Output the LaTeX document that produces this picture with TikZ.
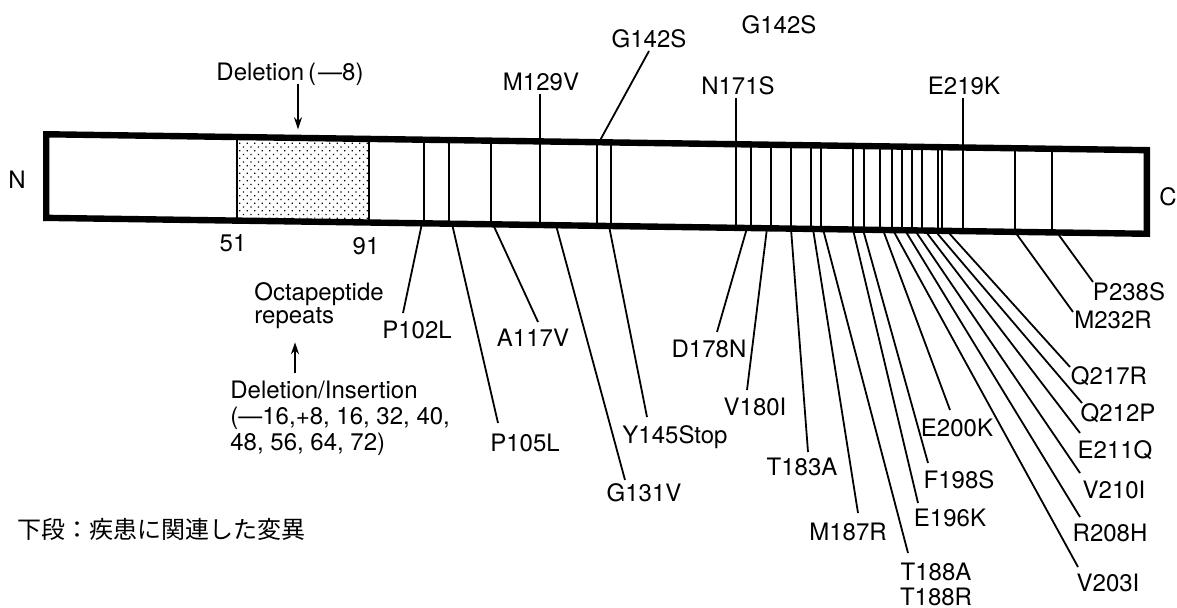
\documentclass[tikz,border=0pt]{standalone}
\usepackage{fontspec}
\setmainfont{TeX Gyre Heros}
\newfontfamily\jpfont{Noto Sans CJK JP}
\usetikzlibrary{arrows.meta,patterns.meta,calc}
\tikzset{
  barline/.style={line width=3.2pt},
  site/.style={line width=1.3pt},
  lead/.style={line width=0.9pt},
  arr/.style={lead,-{Stealth[length=6pt,width=4pt]}},
  mut/.style={inner sep=1.5pt,font=\fontsize{12}{13}\selectfont,
    text height=8.6pt,text depth=0pt},
  blk/.style={inner sep=1.5pt,font=\fontsize{12}{13}\selectfont},
  slant/.style={yslant=-0.01445},   % the scanned bar runs slightly downhill
}
\begin{document}
\begin{tikzpicture}[x=0.5pt,y=-0.5pt]
  \path[use as bounding box,fill=white] (0,0) rectangle (1177,608);

  % protein bar with the octapeptide repeat region
  \begin{scope}[slant]
    \fill[pattern={Dots[distance=2.65pt,angle=45,radius=0.45pt]}]
      (237,136.8) rectangle (369,214);
    \foreach \x in {237,369,424,449,491,540,597,611,736,751,771,791,811,821,
                    853,864,880,892,902,912,922,938,942,963,1015,1052}
      \draw[site] (\x,133.6) -- (\x,217.2);
    \draw[barline] (46.2,133.6) rectangle (1146.8,217.2);
    \coordinate (t298) at (298,125);
    \foreach \x in {540,599,736,963}
      \coordinate (t\x) at (\x,133.6);
  \end{scope}

  \node[mut] (nterm) at (17,180) {N};
  \node[mut] (cterm) at (1168,197) {C};
  \node[mut] (r51) at (233,243) {51};
  \node[mut] (r91) at (366,246) {91};

  % upper row
  \node[mut] (del8) at (290,72) {Deletion\,(\kern1pt—8)};
  \node[mut] (m129) at (541,82) {M129V};
  \node[mut] (g142) at (649,39) {G142S};
  \node[mut] (g142b) at (779,25) {G142S};
  \node[mut] (n171) at (738,86) {N171S};
  \node[mut] (e219) at (964,86) {E219K};
  \draw[arr] (del8.south -| t298) -- (t298);
  \draw[lead] (m129.south -| t540) -- (t540);
  \draw[lead] (g142.south) -- (t599);
  \draw[lead] (n171.south -| t736) -- (t736);
  \draw[lead] (e219.south -| t963) -- (t963);

  % repeats
  \node[blk,align=left,anchor=west] (octa) at (251,305.8)
    {Octapeptide\\[-1.5pt]repeats};
  \node[blk,align=left,anchor=west] (delins) at (227,418.3)
    {Deletion/Insertion\\(—16,+8, 16, 32, 40,\\48, 56, 64, 72)};
  \coordinate (ax) at (295,0);
  \draw[arr,shorten <=2.5pt,shorten >=5pt] (delins.north -| ax) -- (octa.south -| ax);

  % lower row: disease-linked mutations
  \foreach \nm/\sx/\ex/\ey/\lx/\ly/\txt in {
      p102/422/403/313/417/330/P102L,
      p105/452/498/423/525/443/P105L,
      a117/493/538/322/533/338/A117V,
      g131/556/625/480/644/493/G131V,
      y145/609/647/417/675/435/Y145Stop,
      d178/747/717/332/709/349/D178N,
      v180/767/747/390/755/407/V180I,
      t183/791/808/452/802/467/T183A,
      m187/813/858/513/848/532/M187R,
      e196/853/918/503/950/518/E196K,
      f198/863/928/463/959/480/F198S,
      e200/883/950/410/957/428/E200K,
      v203/893/1078/567/1108/583/V203I,
      r208/905/1080/517/1110/533/R208H,
      v210/915/1080/473/1114/490/V210I,
      e211/925/1080/433/1115/450/E211Q,
      q212/935/1082/403/1118/413/Q212P,
      q217/947/1070/367/1109/376/Q217R,
      m232/1015/1073/312/1113/320/M232R,
      p238/1057/1093/282/1129/292/P238S}{
    \path[slant] (\sx,217.2) coordinate (b\nm);
    \node[mut] (\nm) at (\lx,\ly) {\txt};
    \coordinate (e\nm) at (\ex,\ey);
    \draw[lead] (b\nm) -- (e\nm);
  }
  \path[slant] (823,217.2) coordinate (bt188);
  \node[blk,align=center] (t188) at (936,584.5) {T188A\\[-0.5pt]T188R};
  \coordinate (et188) at (908,553);
  \draw[lead] (bt188) -- (et188);

  \node[mut,anchor=west,font=\fontsize{12}{13}\jpfont] (note) at (14,530)
    {下段：疾患に関連した変異};
\end{tikzpicture}
\end{document}
